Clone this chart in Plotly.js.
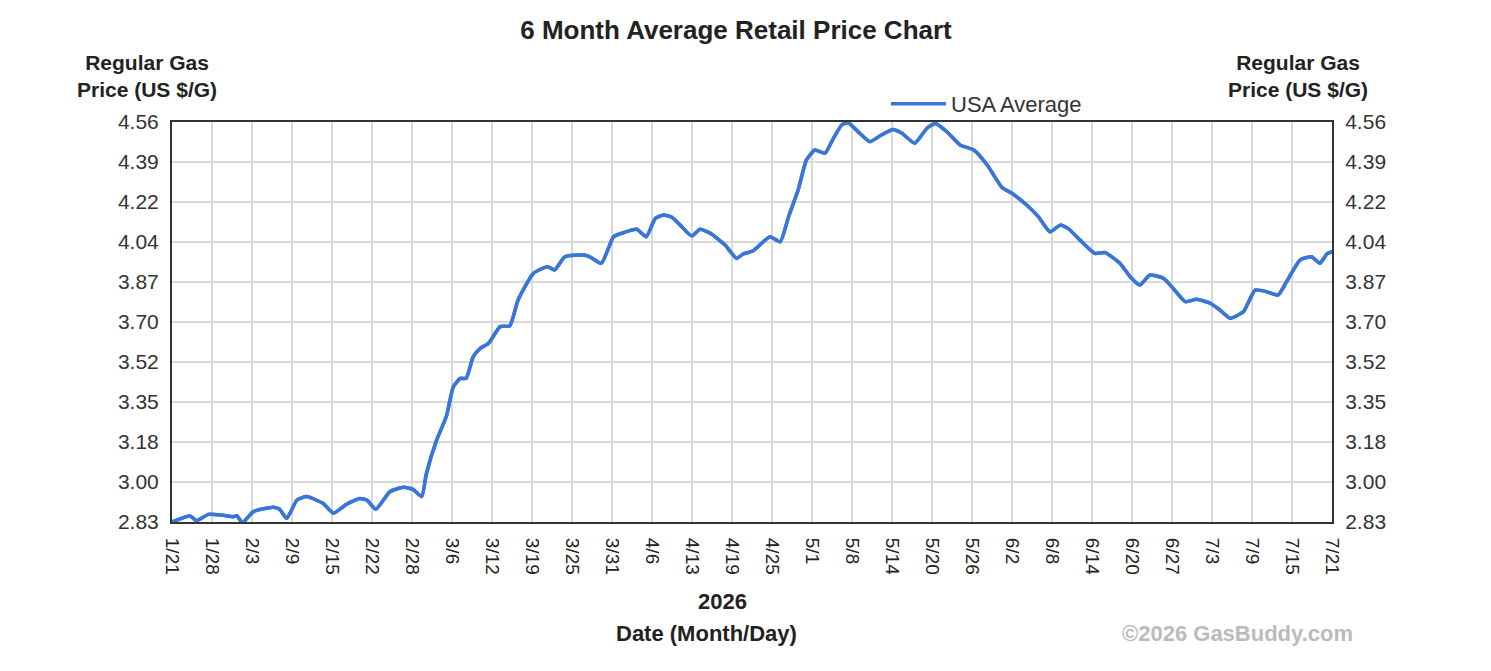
<!DOCTYPE html>
<html>
<head>
<meta charset="utf-8">
<script src="https://cdn.plot.ly/plotly-3.0.1.min.js"></script>
<style>html,body{margin:0;padding:0;background:#fff;}#chart{width:1491px;height:671px;}</style>
</head>
<body>
<div id="chart"></div>
<script>
// Days since 1/21/2026
const days = [0, 2.8, 3.85, 5.7, 7.75, 9.6, 10.1, 11.0, 12.7, 15.8, 16.8, 17.9, 19.5, 21.0, 23.6, 25.2, 27.3, 29.3, 30.4, 31.8,
  34.0, 36.1, 37.6, 38.96, 39.7, 41.3, 42.8, 43.9, 45.0, 45.9, 47.0, 48.1, 49.4, 51.2, 52.7, 54.0, 56.4, 58.6, 59.7, 61.3,
  64.2, 65.2, 67.0, 68.9, 70.4, 72.5, 74.0, 75.4, 76.7, 78.0, 79.3, 81.1, 82.4, 84.0, 86.3, 88.1, 89.1, 90.7, 93.3, 94.9,
  96.2, 97.7, 99.0, 100.3, 101.9, 103.2, 104.5, 105.5, 106.8, 108.9, 110.7, 112.5, 113.9, 115.9, 117.8, 119.1, 120.9, 123.0,
  125.1, 127.2, 129.5, 131.1, 133.4, 135.2, 137.0, 138.6, 139.8, 141.7, 144.0, 145.6, 147.9, 149.5, 151.0, 152.6, 154.7,
  156.2, 158.1, 159.9, 162.0, 163.5, 165.1, 167.2, 169.0, 170.8, 172.6, 173.9, 176.0, 177.8, 179.1, 180.2, 181];
const usaAverage = [2.83, 2.856, 2.836, 2.863, 2.86, 2.853, 2.857, 2.827, 2.875, 2.894, 2.885, 2.846, 2.925, 2.94, 2.91, 2.868, 2.908, 2.932, 2.925, 2.885,
  2.961, 2.98, 2.971, 2.94, 3.04, 3.185, 3.286, 3.415, 3.451, 3.451, 3.545, 3.581, 3.603, 3.675, 3.678, 3.79, 3.906, 3.934, 3.92, 3.977,
  3.985, 3.977, 3.949, 4.064, 4.081, 4.096, 4.064, 4.143, 4.158, 4.148, 4.114, 4.067, 4.096, 4.079, 4.028, 3.97, 3.989, 4.003, 4.064, 4.042,
  4.15, 4.266, 4.396, 4.439, 4.425, 4.489, 4.547, 4.557, 4.525, 4.475, 4.504, 4.528, 4.511, 4.468, 4.533, 4.554, 4.518, 4.46,
  4.439, 4.374, 4.277, 4.251, 4.2, 4.15, 4.085, 4.114, 4.1, 4.049, 3.992, 3.995, 3.949, 3.891, 3.855, 3.898, 3.884,
  3.841, 3.783, 3.793, 3.776, 3.747, 3.711, 3.74, 3.833, 3.826, 3.812, 3.869, 3.963, 3.977, 3.949, 3.989, 4.0];
const xTickLabels = ["1/21","1/28","2/3","2/9","2/15","2/22","2/28","3/6","3/12","3/19","3/25","3/31","4/6","4/13","4/19",
  "4/25","5/1","5/8","5/14","5/20","5/26","6/2","6/8","6/14","6/20","6/27","7/3","7/9","7/15","7/21"];
const yTickLabels = ["2.83","3.00","3.18","3.35","3.52","3.70","3.87","4.04","4.22","4.39","4.56"];
const yMin = 2.83, yMax = 4.56, totalDays = 181;

const xTickVals = xTickLabels.map((_, i) => i * totalDays / (xTickLabels.length - 1));
const yTickVals = yTickLabels.map((_, i) => yMin + i * (yMax - yMin) / (yTickLabels.length - 1));

const FONT = "Liberation Sans, Arial, sans-serif";
const lineColor = "#3a76d6";

const traces = [
  {x: days, y: usaAverage, type: "scatter", mode: "lines", name: "USA Average",
   line: {color: lineColor, width: 3.5, shape: "spline", smoothing: 0.5}, hoverinfo: "x+y"},
  {x: days, y: usaAverage, type: "scatter", mode: "lines", yaxis: "y2", showlegend: false,
   line: {color: lineColor, width: 3.5, shape: "spline", smoothing: 0.5}, hoverinfo: "skip"}
];

const yCommon = {
  range: [yMin, yMax], tickmode: "array", tickvals: yTickVals, ticktext: yTickLabels,
  showgrid: true, gridcolor: "#d9d9d9", gridwidth: 2, zeroline: false,
  showline: true, linecolor: "#333", linewidth: 2, ticks: "", ticklen: 0, ticklabelstandoff: 7,
  tickfont: {family: FONT, size: 21, color: "#333"}, fixedrange: true
};

const layout = {
  width: 1491, height: 671,
  margin: {l: 172, r: 159, t: 122, b: 149, pad: 0},
  paper_bgcolor: "#fff", plot_bgcolor: "#fff",
  font: {family: FONT, color: "#222"},
  title: {text: "<b>6 Month Average Retail Price Chart</b>", font: {family: FONT, size: 26, color: "#222"},
          xref: "container", x: 736/1491, xanchor: "center", yref: "container", y: 1 - 30/671, yanchor: "middle"},
  showlegend: true,
  legend: {orientation: "h", x: (886 - 172) / 1160, xanchor: "left", y: 1 + (122 - 104) / 400, yanchor: "middle",
           itemwidth: 55,
           font: {family: FONT, size: 22, color: "#333"}, bgcolor: "rgba(0,0,0,0)"},
  xaxis: {
    range: [0, totalDays], tickmode: "array", tickvals: xTickVals, ticktext: xTickLabels, tickangle: 90,
    showgrid: true, gridcolor: "#d9d9d9", gridwidth: 2, zeroline: false,
    showline: true, mirror: true, linecolor: "#333", linewidth: 2, ticks: "", ticklen: 0, ticklabelstandoff: 10,
    tickfont: {family: FONT, size: 19, color: "#222"}, fixedrange: true
  },
  yaxis: Object.assign({}, yCommon, {side: "left", mirror: true}),
  yaxis2: Object.assign({}, yCommon, {side: "right", overlaying: "y", showgrid: false}),
  annotations: [
    {text: "<b>Regular Gas<br>Price (US $/G)</b>", xref: "paper", yref: "paper", x: (147 - 172) / 1160, y: 1 + (122 - 76) / 400,
     xanchor: "center", yanchor: "middle", showarrow: false, font: {family: FONT, size: 21, color: "#222"}, align: "center"},
    {text: "<b>Regular Gas<br>Price (US $/G)</b>", xref: "paper", yref: "paper", x: (1298 - 172) / 1160, y: 1 + (122 - 76) / 400,
     xanchor: "center", yanchor: "middle", showarrow: false, font: {family: FONT, size: 21, color: "#222"}, align: "center"},
    {text: "<b>2026</b>", xref: "paper", yref: "paper", x: (722 - 172) / 1160, y: -(601 - 522) / 400,
     xanchor: "center", yanchor: "middle", showarrow: false, font: {family: FONT, size: 22, color: "#222"}},
    {text: "<b>Date (Month/Day)</b>", xref: "paper", yref: "paper", x: (706 - 172) / 1160, y: -(633 - 522) / 400,
     xanchor: "center", yanchor: "middle", showarrow: false, font: {family: FONT, size: 22, color: "#222"}},
    {text: "<b>©2026 GasBuddy.com</b>", xref: "paper", yref: "paper", x: (1237 - 172) / 1160, y: -(633 - 522) / 400,
     xanchor: "center", yanchor: "middle", showarrow: false, font: {family: FONT, size: 22, color: "#bbb"}}
  ]
};

Plotly.newPlot("chart", traces, layout, {displayModeBar: false, staticPlot: false});
</script>
</body>
</html>
